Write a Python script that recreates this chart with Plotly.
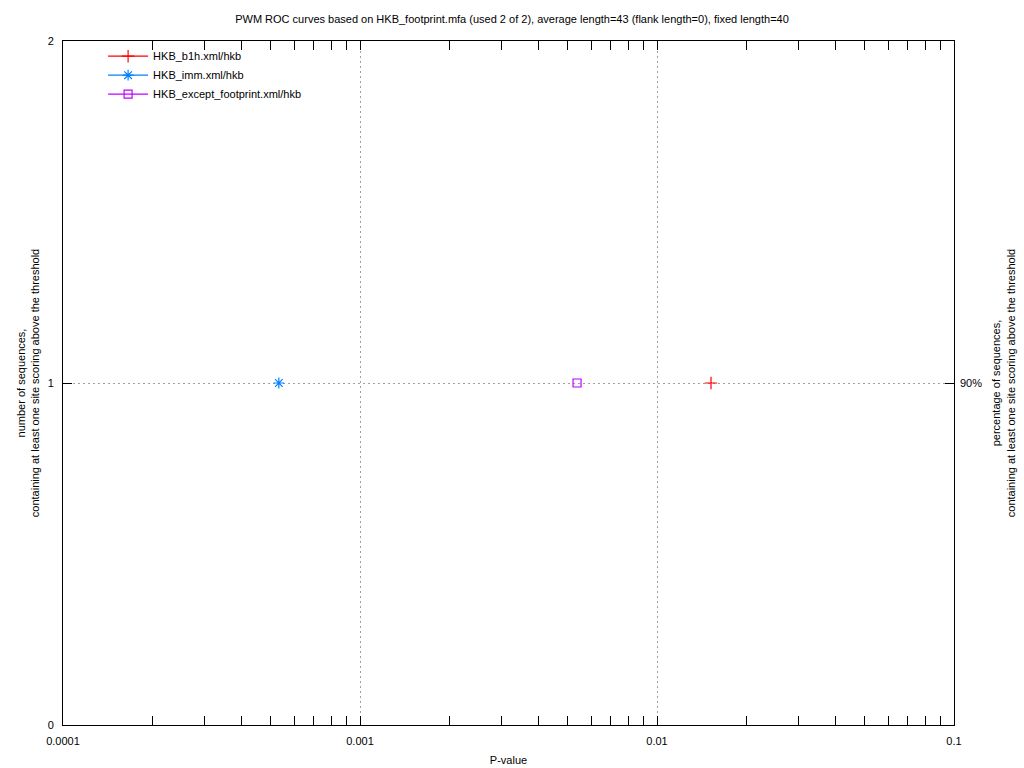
import plotly.graph_objects as go

# ---- data ----
series_names = ["HKB_b1h.xml/hkb", "HKB_imm.xml/hkb", "HKB_except_footprint.xml/hkb"]
pvalues_b1h = [0.0152]
counts_b1h = [1]
pvalues_imm = [0.000533]
counts_imm = [1]
pvalues_except = [0.00538]
counts_except = [1]

x_tickvals = [0.0001, 0.001, 0.01, 0.1]
x_ticktext = ["0.0001", "0.001", "0.01", "0.1"]
x_minor_mult = [2, 3, 4, 5, 6, 7, 8, 9]
y_tickvals = [0, 1, 2]
y_ticktext = ["0", "1", "2"]
y2_tickvals = [1]
y2_ticktext = ["90%"]

title_text = ("PWM ROC curves based on HKB_footprint.mfa (used 2 of 2), "
              "average length=43 (flank length=0), fixed length=40")

FONT = "Liberation Sans, Arial, sans-serif"

colors = ["#ff0000", "#0080ff", "#c000ff"]
symbols = ["cross-thin", "asterisk-open", "square-open"]
sizes = [9, 9, 8]
data = [(pvalues_b1h, counts_b1h), (pvalues_imm, counts_imm), (pvalues_except, counts_except)]

x_minor_vals = [d * m for d in x_tickvals[:-1] for m in x_minor_mult]

GRID = "#a0a0a0"

fig = go.Figure()
for name, (xs, ys), c, s, sz in zip(series_names, data, colors, symbols, sizes):
    fig.add_trace(go.Scatter(
        x=xs, y=ys, name=name, mode="lines+markers",
        line=dict(color=c, width=1.2),
        marker=dict(symbol=s, size=sz, color=c, line=dict(color=c, width=1.2)),
    ))

# carrier trace for the right axis
fig.add_trace(go.Scatter(x=[None], y=[None], yaxis="y2", showlegend=False, hoverinfo="skip"))

fig.update_layout(
    width=1024, height=768,
    paper_bgcolor="white", plot_bgcolor="white",
    font=dict(family=FONT, size=11, color="black"),
    margin=dict(l=63, r=70, t=41, b=43, autoexpand=False),
    title=dict(text=title_text, x=0.5, xanchor="center", y=0.975, yanchor="middle",
               font=dict(size=11, family=FONT)),
    showlegend=True,
    legend=dict(x=0.045, y=0.999, xanchor="left", yanchor="top",
                bgcolor="rgba(0,0,0,0)", font=dict(size=11, family=FONT),
                tracegroupgap=0, itemwidth=40),
    xaxis=dict(
        type="log", range=[-4, -1], automargin=False,
        tickvals=x_tickvals, ticktext=x_ticktext,
        ticks="inside", ticklen=9, tickcolor="black", tickwidth=1,
        ticklabelstandoff=6,
        minor=dict(tickvals=x_minor_vals, ticks="inside", ticklen=4,
                   tickcolor="black", tickwidth=1, showgrid=False),
        showline=True, linecolor="black", linewidth=1, mirror="allticks",
        showgrid=True, gridcolor=GRID, griddash="2px,3px", gridwidth=1,
        zeroline=False,
        title=dict(text="P-value", standoff=10, font=dict(size=11)),
    ),
    yaxis=dict(
        range=[0, 2], tickvals=y_tickvals, ticktext=y_ticktext, automargin=False,
        ticks="inside", ticklen=9, tickcolor="black",
        ticklabelstandoff=6,
        showline=True, linecolor="black", linewidth=1, mirror=True,
        showgrid=True, gridcolor=GRID, griddash="2px,3px", gridwidth=1,
        zeroline=False,
        title=dict(text="number of sequences,<br>containing at least one site scoring above the threshold",
                   standoff=5, font=dict(size=11)),
    ),
    yaxis2=dict(
        range=[0, 2], overlaying="y", side="right", automargin=False,
        tickvals=y2_tickvals, ticktext=y2_ticktext,
        ticks="inside", ticklen=9, tickcolor="black",
        ticklabelstandoff=5,
        showgrid=False, zeroline=False, showline=False,
        title=dict(text="percentage of sequences,<br>containing at least one site scoring above the threshold",
                   standoff=11, font=dict(size=11)),
    ),
)

fig.write_html("out.html", config={"displayModeBar": False},
               post_script="document.body.style.margin='0';")
